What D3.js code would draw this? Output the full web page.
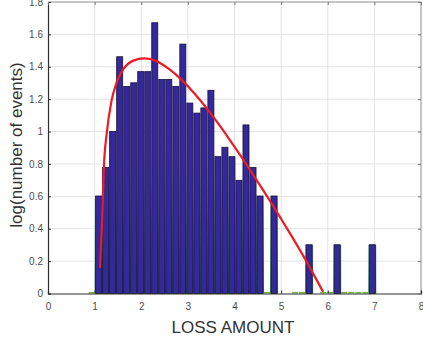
<!DOCTYPE html>
<html>
<head>
<meta charset="utf-8">
<script src="https://cdn.jsdelivr.net/npm/d3@7"></script>
<style>
  html, body { margin: 0; padding: 0; background: #fff; }
  svg { display: block; }
  text { font-family: "Liberation Sans", Arial, sans-serif; }
</style>
</head>
<body>
<svg id="chart" width="423" height="340"></svg>
<script>
// Histogram bins (loss amount), first bin left edge and bin width
const binStart = 0.86;
const binWidth = 0.1505;
// log10(count) per bin; 0 = a single event, null = empty bin
const logCounts = [
  0,
  0.602, 0.778, 1.000, 1.462, 1.279, 1.301, 1.370, 1.370, 1.672, 1.322,
  1.322, 1.279, 1.540, 1.176, 1.114, 1.146, 1.255, 0.845, 0.903, 0.845,
  0.699, 1.041, 0.778, 0.602, 0, 0.602, null, null, 0, 0,
  0.301, null, 0, 0, 0.301, 0, 0, 0, 0, 0.301
];
// Fitted density curve (x, log count)
const fitX = [1.116, 1.152, 1.187, 1.20, 1.26, 1.367, 1.474, 1.616, 1.83, 2.06,
              2.30, 2.60, 2.90, 3.05, 3.26, 3.52, 3.70, 3.906, 4.156, 4.406,
              4.764, 4.98, 5.193, 5.5, 5.90];
const fitY = [0.158, 0.395, 0.682, 0.785, 0.99, 1.196, 1.305, 1.385, 1.438, 1.452,
              1.438, 1.385, 1.31, 1.265, 1.195, 1.10, 1.03, 0.945, 0.84, 0.73,
              0.57, 0.47, 0.37, 0.22, 0.01];
const xTicks = [0, 1, 2, 3, 4, 5, 6, 7, 8];
const yTicks = [0, 0.2, 0.4, 0.6, 0.8, 1, 1.2, 1.4, 1.6, 1.8];
const xTitle = "LOSS AMOUNT";
const yTitle = "log(number of events)";

const svg = d3.select("#chart");
const plotL = 48, plotR = 421, plotT = 2, plotB = 293.5;

const x = d3.scaleLinear().domain([0, 8]).range([plotL, plotR]);
const y = d3.scaleLinear().domain([0, 1.8]).range([plotB, plotT]);

// gradient for the green glow visible in the gaps between bars
const defs = svg.append("defs");
const grad = defs.append("linearGradient")
  .attr("id", "gapFade")
  .attr("gradientUnits", "userSpaceOnUse")
  .attr("x1", 0).attr("x2", 0)
  .attr("y1", y(0)).attr("y2", y(0.95));
grad.append("stop").attr("offset", 0).attr("stop-color", "#1f8c3a").attr("stop-opacity", 0.95);
grad.append("stop").attr("offset", 0.45).attr("stop-color", "#6cbf6c").attr("stop-opacity", 0.7);
grad.append("stop").attr("offset", 1).attr("stop-color", "#ffffff").attr("stop-opacity", 0);

// grid
const grid = svg.append("g");
grid.selectAll("line.gx").data(xTicks.slice(1, -1)).join("line")
  .attr("x1", d => x(d)).attr("x2", d => x(d))
  .attr("y1", plotT).attr("y2", plotB)
  .attr("stroke", "#e3e3e3").attr("stroke-width", 1);
grid.selectAll("line.gy").data(yTicks.slice(1, -1)).join("line")
  .attr("x1", plotL).attr("x2", plotR)
  .attr("y1", d => y(d)).attr("y2", d => y(d))
  .attr("stroke", "#e3e3e3").attr("stroke-width", 1);

const bins = logCounts.map((v, i) => ({
  x0: binStart + i * binWidth,
  x1: binStart + (i + 1) * binWidth,
  v
}));
const barFrac = 0.86;
const bx = b => x(b.x0 + binWidth * (1 - barFrac) / 2);
const bw = () => x(binWidth * barFrac) - x(0);

const filled = bins.filter(b => b.v !== null && b.v > 0);
const single = bins.filter(b => b.v === 0);

// green glow behind each bar
svg.append("g").selectAll("rect").data(filled).join("rect")
  .attr("x", b => bx(b) - 1)
  .attr("width", bw() + 2)
  .attr("y", b => y(b.v))
  .attr("height", b => y(0) - y(b.v))
  .attr("fill", "url(#gapFade)");

// bars
svg.append("g").selectAll("rect").data(filled).join("rect")
  .attr("x", bx)
  .attr("width", bw())
  .attr("y", b => y(b.v))
  .attr("height", b => y(0) - y(b.v))
  .attr("fill", "#34289a")
  .attr("stroke", "#17133d")
  .attr("stroke-width", 0.8);

// zero-height bins (single events)
svg.append("g").selectAll("line").data(single).join("line")
  .attr("x1", b => bx(b)).attr("x2", b => bx(b) + bw())
  .attr("y1", y(0) - 0.8).attr("y2", y(0) - 0.8)
  .attr("stroke", "#78b640").attr("stroke-width", 1.6);

// fitted curve
const pts = fitX.map((d, i) => [d, fitY[i]]);
svg.append("path")
  .datum(pts)
  .attr("d", d3.line().x(d => x(d[0])).y(d => y(d[1])).curve(d3.curveMonotoneX))
  .attr("fill", "none")
  .attr("stroke", "#ec1c24")
  .attr("stroke-width", 2.2);

// axes box
svg.append("line").attr("x1", plotL).attr("x2", plotR).attr("y1", plotT).attr("y2", plotT)
  .attr("stroke", "#8c8c8c").attr("stroke-width", 1);
svg.append("line").attr("x1", plotR).attr("x2", plotR).attr("y1", plotT).attr("y2", plotB)
  .attr("stroke", "#8c8c8c").attr("stroke-width", 1);

const xAxis = svg.append("g")
  .attr("transform", `translate(0,${plotB})`)
  .call(d3.axisBottom(x).tickValues(xTicks).tickSize(-3).tickPadding(9).tickFormat(d3.format("d")));
const yAxis = svg.append("g")
  .attr("transform", `translate(${plotL},0)`)
  .call(d3.axisLeft(y).tickValues(yTicks).tickSize(-3).tickPadding(5).tickFormat(d => String(d)));
const topTicks = svg.append("g")
  .attr("transform", `translate(0,${plotT})`)
  .call(d3.axisTop(x).tickValues(xTicks).tickSize(-3).tickFormat(""));
const rightTicks = svg.append("g")
  .attr("transform", `translate(${plotR},0)`)
  .call(d3.axisRight(y).tickValues(yTicks).tickSize(-3).tickFormat(""));

[xAxis, yAxis].forEach(g => {
  g.select(".domain").attr("stroke", "#2e2e2e").attr("stroke-width", 1.2);
  g.selectAll(".tick line").attr("stroke", "#2e2e2e");
  g.selectAll(".tick text")
    .attr("fill", "#4d4d4d")
    .style("font-size", "10px")
    .style("font-family", "'Liberation Sans', Arial, sans-serif");
});
[topTicks, rightTicks].forEach(g => {
  g.select(".domain").remove();
  g.selectAll(".tick line").attr("stroke", "#777");
});

// axis titles
svg.append("text")
  .attr("x", 233).attr("y", 333)
  .attr("text-anchor", "middle")
  .attr("fill", "#333")
  .style("font-size", "17px")
  .text(xTitle);
svg.append("text")
  .attr("transform", "translate(22,145) rotate(-90)")
  .attr("text-anchor", "middle")
  .attr("fill", "#333")
  .style("font-size", "17px")
  .text(yTitle);
</script>
</body>
</html>
